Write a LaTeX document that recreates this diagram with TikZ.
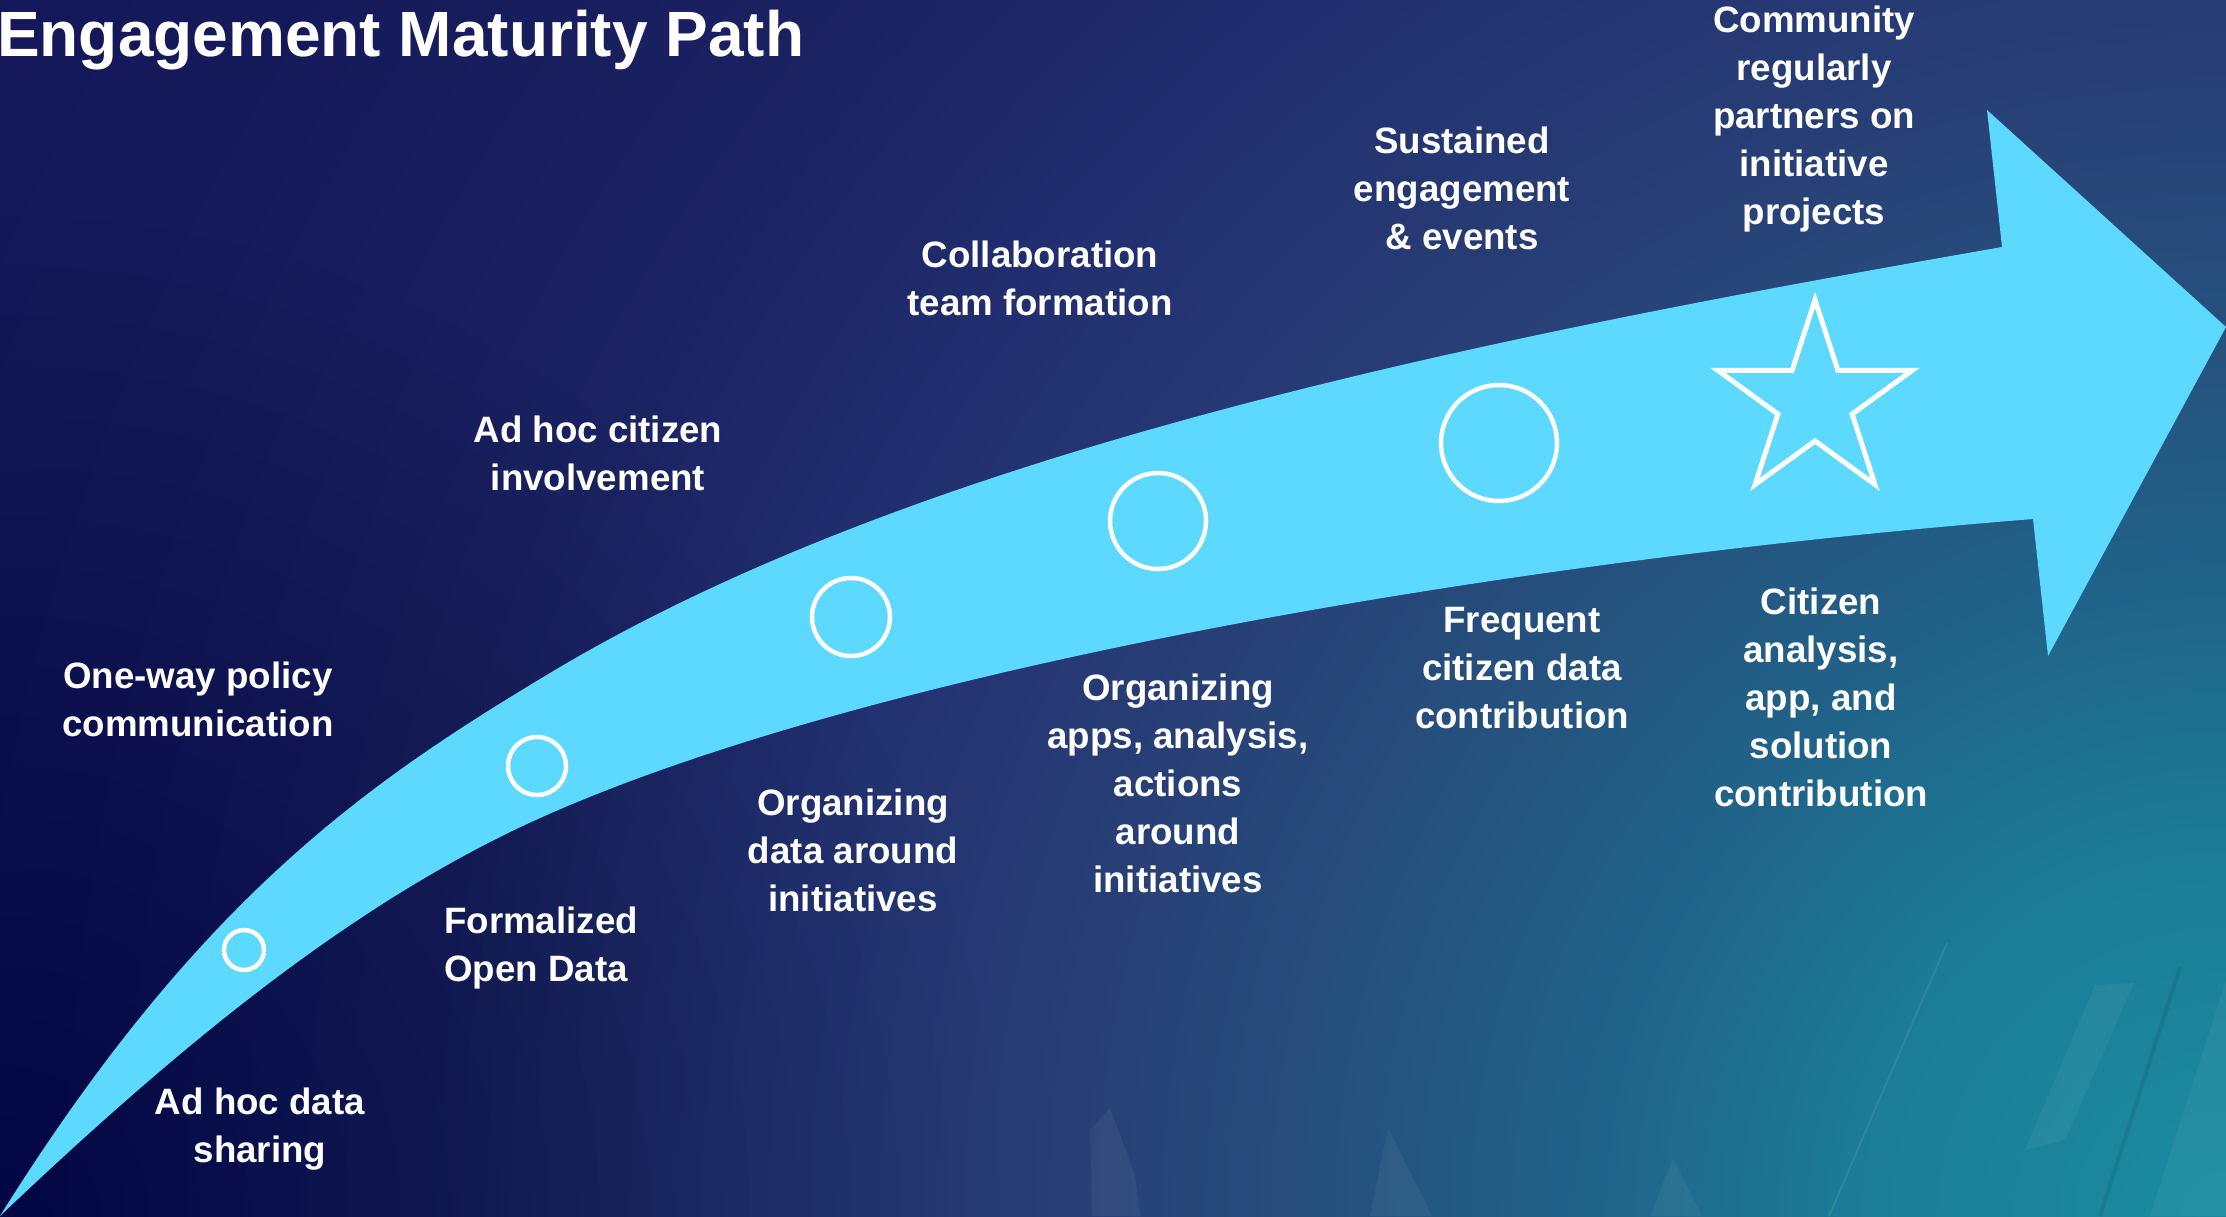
\documentclass[tikz,border=0pt]{standalone}
\usepackage{fontspec}
\setmainfont{Liberation Sans}
\usetikzlibrary{calc}
\definecolor{arrowcyan}{RGB}{93,217,255}
\definecolor{bgA}{HTML}{1A8CA0}
\definecolor{bgB}{HTML}{1C7C96}
\definecolor{bgC}{HTML}{20648A}
\definecolor{bgD}{HTML}{25527E}
\definecolor{bgE}{HTML}{283F76}
\definecolor{bgF}{HTML}{222F70}
\definecolor{bgG}{HTML}{1B2262}
\definecolor{bgH}{HTML}{15195A}
\definecolor{bgI}{HTML}{13165A}
\tikzset{
  lbl/.style={text=white, align=center, inner sep=0pt, font=\fontsize{36.7}{48}\selectfont\bfseries},
  ring/.style={circle, draw=white, line width=4.5pt, inner sep=0pt},
  starline/.style={draw=white, line width=5pt, line join=miter},
  shard/.style={fill=white, fill opacity=0.05},
}
\begin{document}
\begin{tikzpicture}[x=1pt, y=-1pt]
\useasboundingbox (0,0) rectangle (2226,1216);
% background
\begin{scope}
  \clip (0,0) rectangle (2226,1216);
  \fill[bgI] (0,0) rectangle (2226,1216);
  \foreach \ca/\cb/\da/\db in {bgI/bgH/2800/2300, bgH/bgG/2300/1800, bgG/bgF/1800/1500, bgF/bgE/1500/1150, bgE/bgD/1150/880, bgD/bgC/880/620, bgC/bgB/620/380, bgB/bgA/380/0} {
    \foreach \j in {0,...,24} {
      \pgfmathsetmacro\rad{\da-(\da-\db)*\j/25}
      \pgfmathtruncatemacro\pct{4*\j}
      \fill[fill=\cb!\pct!\ca] (2226,1216) circle (\rad);
    }
  }
  \foreach \r in {1000,950,...,50} {
    \fill[black, opacity=0.012] (0,1216) circle (\r);
  }
  % faint decorative shards
  \fill[shard] (1092,1216) -- (1090,1130) -- (1110,1108) -- (1135,1175) -- (1140,1216) -- cycle;
  \fill[shard] (1370,1216) -- (1388,1128) -- (1432,1216) -- cycle;
  \fill[shard] (1650,1216) -- (1673,1158) -- (1702,1216) -- cycle;
  \draw[white, opacity=0.08, line width=2pt] (1947,943) -- (1829,1216);
  \fill[shard] (2025,1150) -- (2095,985) -- (2134,983) -- (2065,1140) -- cycle;
  \draw[black, opacity=0.08, line width=4pt] (2180,967) -- (2100,1216);
  \fill[shard] (2150,1216) -- (2226,980) -- (2226,1216) -- cycle;
\end{scope}
% title
\node[anchor=base west, inner sep=0pt, text=white, font=\fontsize{64}{70}\selectfont\bfseries] (title) at (-3,56) {Engagement Maturity Path};
% arrow
\fill[arrowcyan] (0,1216) .. controls (200,896) and (370,781) .. (550,673)
  .. controls (930,445) and (1502,334.5) .. (2002,247)
  -- (1987,110) -- (2226,327) -- (2048,656) -- (2033,519)
  .. controls (1433,567) and (800,687) .. (500,837)
  .. controls (330,922) and (170,1054.5) .. (0,1216) -- cycle;
% milestones
\node[ring, minimum size=40pt] (m1) at (244,950) {};
\node[ring, minimum size=58pt] (m2) at (537,766) {};
\node[ring, minimum size=78pt] (m3) at (851,617) {};
\node[ring, minimum size=96pt] (m4) at (1158,521) {};
\node[ring, minimum size=116pt] (m5) at (1499,443) {};
\coordinate (starc) at (1815,402);
\foreach \k in {0,...,9} {
  \pgfmathsetmacro\rr{mod(\k,2)==0 ? 102 : 39}
  \coordinate (s\k) at ($(starc)+(-90+36*\k:\rr)$);
}
\draw[starline] (s0) -- (s1) -- (s2) -- (s3) -- (s4) -- (s5) -- (s6) -- (s7) -- (s8) -- (s9) -- cycle;
% labels
\node[lbl] (l1) at (198,699) {One-way policy\\communication};
\node[lbl] (l2) at (260,1129) {Ad hoc data\\sharing};
\node[lbl, align=left, anchor=west] (l3) at (444,948) {Formalized\\Open Data};
\node[lbl] (l4) at (598,453) {Ad hoc citizen\\involvement};
\node[lbl] (l5) at (853,850) {Organizing\\data around\\initiatives};
\node[lbl] (l6) at (1040,278) {Collaboration\\team formation};
\node[lbl] (l7) at (1178,783) {Organizing\\apps, analysis,\\actions\\around\\initiatives};
\node[lbl] (l8) at (1462,188) {Sustained\\engagement\\\& events};
\node[lbl] (l9) at (1522,668) {Frequent\\citizen data\\contribution};
\node[lbl] (l10) at (1814,119) {Community\\regularly\\partners on\\initiative\\projects};
\node[lbl] (l11) at (1821,697) {Citizen\\analysis,\\app, and\\solution\\contribution};
\end{tikzpicture}
\end{document}
